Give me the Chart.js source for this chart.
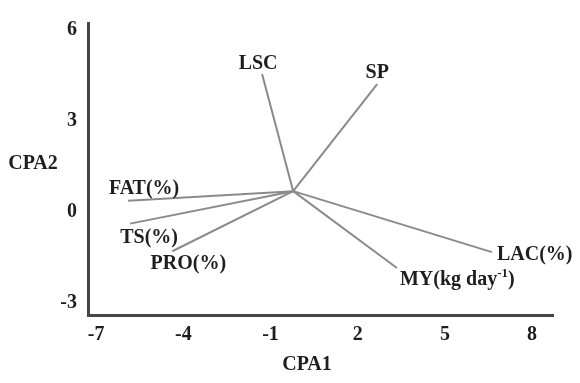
<!DOCTYPE html>
<html>
<head>
<meta charset="utf-8">
<script src="https://cdn.jsdelivr.net/npm/chart.js@4/dist/chart.umd.min.js"></script>
<style>
  html, body { margin: 0; padding: 0; background: #fff; }
  #wrap { width: 580px; height: 383px; }
</style>
</head>
<body>
<div id="wrap"><canvas id="c" width="580" height="383"></canvas></div>
<script>
// ---- data ----
const categories = ['LSC', 'SP', 'FAT(%)', 'TS(%)', 'PRO(%)', 'LAC(%)', 'MY(kg day-1)'];
const vectorStart = [-0.22, 0.69];           // common origin of all vectors (CPA1, CPA2)
const cpa1 = [-1.29, 2.67, -5.90, -5.83, -4.38, 6.62, 3.35];
const cpa2 = [4.55, 4.22, 0.37, -0.38, -1.29, -1.32, -1.84];
const xTicks = [-7, -4, -1, 2, 5, 8];
const yTicks = [6, 3, 0, -3];
const xTitle = 'CPA1';
const yTitle = 'CPA2';

// ---- styling / placement ----
const FONT = "'Liberation Serif', 'Times New Roman', serif";
const TEXT = '#1e1e1e';
const labelPlace = {
  'LSC':          { align: 'center', dx: -4, dy: -10 },
  'SP':           { align: 'center', dx: 0,  dy: -11 },
  'FAT(%)':       { align: 'center', dx: 16, dy: -12 },
  'TS(%)':        { align: 'center', dx: 19, dy: 14 },
  'PRO(%)':       { align: 'center', dx: 16, dy: 13 },
  'LAC(%)':       { align: 'left',   dx: 5,  dy: 3 },
  'MY(kg day-1)': { align: 'left',   dx: 3,  dy: 12 }
};

const datasets = categories.map((name, i) => ({
  label: name,
  data: [{ x: vectorStart[0], y: vectorStart[1] }, { x: cpa1[i], y: cpa2[i] }],
  showLine: true,
  borderColor: '#8a8a8a',
  borderWidth: 2,
  pointRadius: 0,
  fill: false
}));

const labelPlugin = {
  id: 'vecLabels',
  afterDatasetsDraw(chart) {
    const ctx = chart.ctx;
    ctx.save();
    ctx.fillStyle = TEXT;
    ctx.textBaseline = 'middle';
    chart.data.datasets.forEach((ds, i) => {
      const pt = chart.getDatasetMeta(i).data[1];
      const p = labelPlace[ds.label];
      const x = pt.x + p.dx, y = pt.y + p.dy;
      ctx.font = 'bold 20px ' + FONT;
      if (ds.label === 'MY(kg day-1)') {
        const a = 'MY(kg day', sup = '-1', b = ')';
        ctx.textAlign = 'left';
        let cx = x;
        ctx.fillText(a, cx, y); cx += ctx.measureText(a).width;
        ctx.font = 'bold 13px ' + FONT;
        ctx.fillText(sup, cx, y - 6); cx += ctx.measureText(sup).width;
        ctx.font = 'bold 20px ' + FONT;
        ctx.fillText(b, cx, y);
      } else {
        ctx.textAlign = p.align;
        ctx.fillText(ds.label, x, y);
      }
    });
    // axis titles (horizontal, as in the reference)
    const ca = chart.chartArea;
    ctx.font = 'bold 20px ' + FONT;
    ctx.textAlign = 'center';
    ctx.fillText(yTitle, ca.left - 55, ca.top + 141);
    ctx.fillText(xTitle, ca.left + 219, 365);
    ctx.restore();
  }
};

new Chart(document.getElementById('c'), {
  type: 'scatter',
  data: { datasets },
  options: {
    responsive: false,
    animation: false,
    devicePixelRatio: 1,
    layout: { padding: { top: 18, right: 27, left: 0, bottom: 0 } },
    plugins: { legend: { display: false }, tooltip: { enabled: false } },
    scales: {
      x: {
        type: 'linear',
        min: -7.28, max: 8.72,
        afterBuildTicks: s => { s.ticks = xTicks.map(v => ({ value: v })); },
        afterFit: s => { s.height = 68; },
        grid: { display: false, drawTicks: false },
        border: { display: true, color: '#454545', width: 3 },
        ticks: { padding: 8, color: TEXT, font: { family: FONT, size: 20, weight: 'bold' }, maxRotation: 0, autoSkip: false }
      },
      y: {
        type: 'linear',
        min: -3.39, max: 6.23,
        afterBuildTicks: s => { s.ticks = yTicks.map(v => ({ value: v })); },
        afterFit: s => { s.width = 88; },
        grid: { display: false, drawTicks: false },
        border: { display: true, color: '#454545', width: 3 },
        ticks: { padding: 11, color: TEXT, font: { family: FONT, size: 20, weight: 'bold' }, autoSkip: false }
      }
    }
  },
  plugins: [labelPlugin]
});
</script>
</body>
</html>
